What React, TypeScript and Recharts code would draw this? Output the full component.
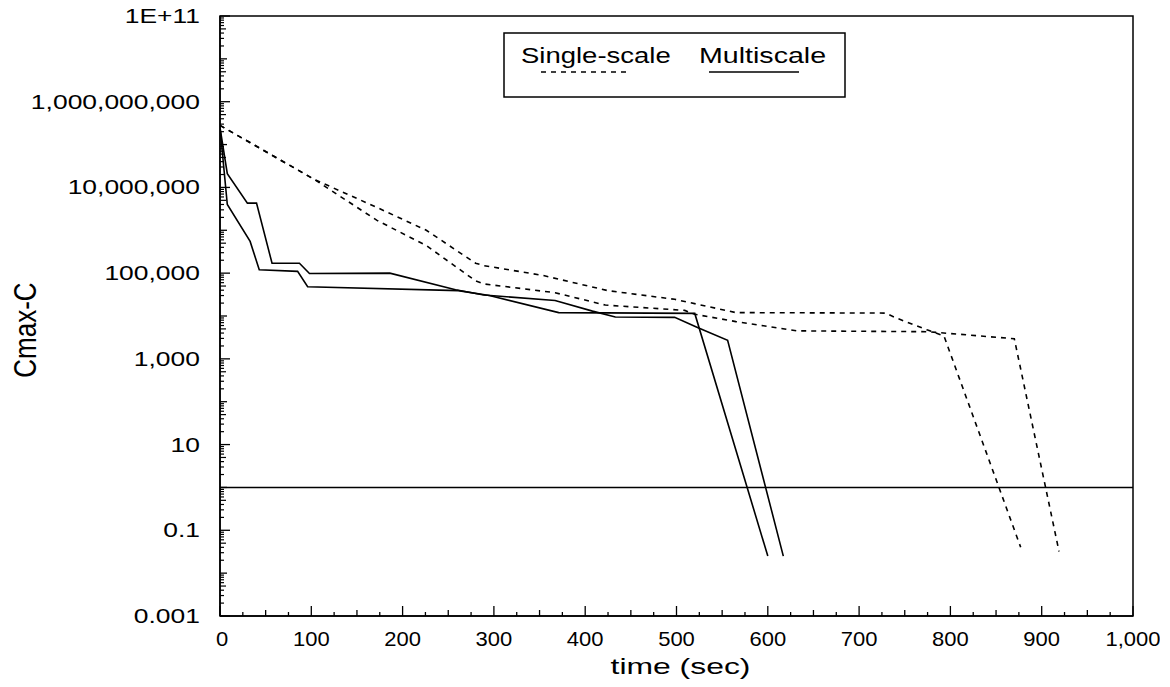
import React from 'react';
import { LineChart, Line, XAxis, YAxis, ReferenceArea, Legend, Label } from 'recharts';

// ---------- data (time in sec, Cmax-C) ----------
const singleScaleATime = [0, 103, 172, 226, 280, 289, 353, 425, 498, 565, 729, 740, 775, 793, 877];
const singleScaleAValue = [2.8e8, 1.55e7, 3.4e6, 1.0e6, 1.7e5, 1.5e5, 8.9e4, 3.9e4, 2.45e4, 1.2e4, 1.17e4, 9.1e3, 4.7e3, 3.4e3, 0.04];

const singleScaleBTime = [0, 103, 172, 226, 280, 289, 367, 422, 509, 520, 565, 632, 775, 870, 919];
const singleScaleBValue = [2.8e8, 1.55e7, 1.7e6, 4.4e5, 6.6e4, 5.6e4, 3.5e4, 1.8e4, 1.35e4, 1.1e4, 7.4e3, 4.5e3, 4.3e3, 2.95e3, 0.032];

const multiScaleATime = [0, 8, 30, 40, 57, 87, 98, 186, 258, 289, 367, 408, 433, 498, 523, 556, 617];
const multiScaleAValue = [2.5e8, 2.1e7, 4.3e6, 4.3e6, 1.7e5, 1.7e5, 9.8e4, 1.0e5, 4.1e4, 3.1e4, 2.3e4, 1.3e4, 9.5e3, 9.3e3, 5.4e3, 2.7e3, 0.025];

const multiScaleBTime = [0, 8, 33, 43, 85, 96, 261, 295, 371, 520, 600];
const multiScaleBValue = [2.5e8, 4.0e6, 5.5e5, 1.2e5, 1.1e5, 4.8e4, 3.9e4, 3.0e4, 1.2e4, 1.15e4, 0.025];

const thresholdTime = [0, 1000];
const thresholdValue = [1, 1];

const yTicks = [1e-3, 1e-2, 1e-1, 1, 10, 100, 1e3, 1e4, 1e5, 1e6, 1e7, 1e8, 1e9, 1e10, 1e11];
const yTickLabels = ['0.001', '', '0.1', '', '10', '', '1,000', '', '100,000', '', '10,000,000', '', '1,000,000,000', '', '1E+11'];

const xTicks = [0, 25, 50, 75, 100, 125, 150, 175, 200, 225, 250, 275, 300, 325, 350, 375, 400, 425, 450, 475, 500,
  525, 550, 575, 600, 625, 650, 675, 700, 725, 750, 775, 800, 825, 850, 875, 900, 925, 950, 975, 1000];
const xTickLabels: Record<number, string> = {
  0: '0', 100: '100', 200: '200', 300: '300', 400: '400', 500: '500',
  600: '600', 700: '700', 800: '800', 900: '900', 1000: '1,000',
};

const zip = (ts: number[], vs: number[]) => ts.map((t, i) => ({ t, v: vs[i] }));
const singleA = zip(singleScaleATime, singleScaleAValue);
const singleB = zip(singleScaleBTime, singleScaleBValue);
const multiA = zip(multiScaleATime, multiScaleAValue);
const multiB = zip(multiScaleBTime, multiScaleBValue);
const threshold = zip(thresholdTime, thresholdValue);

// ---------- layout ----------
const W = 1160;
const H = 687;
const PLOT_H = 600;
const FONT = '"Liberation Sans", Arial, Helvetica, sans-serif';

function SText(props: { x: number; y: number; anchor: string; size: number; sx: number; children: React.ReactNode }) {
  const { x, y, anchor, size, sx, children } = props;
  return (
    <text
      transform={`translate(${x},${y}) scale(${sx},1)`}
      textAnchor={anchor as any}
      fontSize={size}
      fontFamily={FONT}
      fill="#000"
    >
      {children}
    </text>
  );
}

function YTick(props: any) {
  const { x, y, payload } = props;
  const val = payload.value as number;
  const idx = yTicks.findIndex((t) => Math.abs(Math.log10(t) - Math.log10(val)) < 1e-6);
  const label = idx >= 0 ? yTickLabels[idx] : '';
  const decH = PLOT_H / 14;
  const minors: React.ReactNode[] = [];
  if (val < 1e11) {
    for (let k = 2; k <= 9; k++) {
      const yy = y - Math.log10(k) * decH;
      minors.push(<line key={k} x1={x} x2={x + (k === 5 ? 6 : 4)} y1={yy} y2={yy} stroke="#000" strokeWidth={1.2} />);
    }
  }
  return (
    <g>
      <line x1={x} x2={x + (label ? 10 : 7)} y1={y} y2={y} stroke="#000" strokeWidth={1.3} />
      {minors}
      {label ? <SText x={x - 20} y={y + 7} anchor="end" size={21} sx={1.26}>{label}</SText> : null}
    </g>
  );
}

function XTick(props: any) {
  const { x, y, payload } = props;
  const val = payload.value as number;
  const label = xTickLabels[val];
  const len = val % 100 === 0 ? 10 : val % 50 === 0 ? 6 : 4;
  return (
    <g>
      <line x1={x} x2={x} y1={y} y2={y - len} stroke="#000" strokeWidth={1.3} />
      {label !== undefined ? (
        <SText x={val === 0 ? x + 2 : x} y={y + 30} anchor="middle" size={20} sx={1.1}>{label}</SText>
      ) : null}
    </g>
  );
}

function XTitle(props: any) {
  const vb = props.viewBox || { x: 220, y: 616, width: 913, height: 71 };
  return (
    <SText x={vb.x + vb.width / 2 + 4} y={vb.y + 58} anchor="middle" size={22} sx={1.45}>
      time (sec)
    </SText>
  );
}

function YTitle(props: any) {
  const vb = props.viewBox || { x: 8, y: 16, width: 212, height: 600 };
  const cx = vb.x + 28;
  const cy = vb.y + vb.height / 2 + 14;
  return (
    <text
      transform={`translate(${cx},${cy}) rotate(-90) scale(1,1.2)`}
      textAnchor="middle"
      fontSize={26}
      fontFamily={FONT}
      fill="#000"
    >
      Cmax-C
    </text>
  );
}

function LegendBox() {
  return (
    <svg width={344} height={67} style={{ display: 'block' }}>
      <rect x={1} y={1} width={341} height={64} fill="#fff" stroke="#000" strokeWidth={1.5} />
      <SText x={18} y={31} anchor="start" size={22} sx={1.25}>Single-scale</SText>
      <line x1={38} x2={128} y1={40} y2={40} stroke="#000" strokeWidth={1.5} strokeDasharray="5 5" />
      <SText x={196} y={31} anchor="start" size={22} sx={1.3}>Multiscale</SText>
      <line x1={206} x2={296} y1={40} y2={40} stroke="#000" strokeWidth={1.5} />
    </svg>
  );
}

export default function App() {
  return (
    <div style={{ width: W, height: H, background: '#fff', marginTop: -8, marginLeft: -8 }}>
      <LineChart width={W} height={H} margin={{ top: 16, right: 27, bottom: 0, left: 8 }} style={{ overflow: 'visible' }}>
        <XAxis
          type="number"
          dataKey="t"
          domain={[0, 1000]}
          ticks={xTicks}
          interval={0}
          allowDataOverflow
          height={71}
          tickSize={0}
          tickMargin={0}
          tickLine={false}
          axisLine={{ stroke: '#000', strokeWidth: 1.5 }}
          tick={(p: any) => <XTick {...p} />}
        >
          <Label content={(p: any) => <XTitle {...p} />} />
        </XAxis>
        <YAxis
          type="number"
          scale="log"
          domain={[1e-3, 1e11]}
          ticks={yTicks}
          interval={0}
          allowDataOverflow
          width={212}
          tickSize={0}
          tickMargin={0}
          tickLine={false}
          axisLine={{ stroke: '#000', strokeWidth: 1.5 }}
          tick={(p: any) => <YTick {...p} />}
        >
          <Label content={(p: any) => <YTitle {...p} />} />
        </YAxis>
        <ReferenceArea x1={0} x2={1000} y1={1e-3} y2={1e11} fill="none" stroke="#000" strokeWidth={1.5} ifOverflow="visible" />
        <Line data={threshold} dataKey="v" type="linear" stroke="#000" strokeWidth={1.6} dot={false} isAnimationActive={false} />
        <Line data={singleA} dataKey="v" name="Single-scale" type="linear" stroke="#000" strokeWidth={1.6} strokeDasharray="5 5" dot={false} isAnimationActive={false} />
        <Line data={singleB} dataKey="v" type="linear" stroke="#000" strokeWidth={1.6} strokeDasharray="5 5" dot={false} isAnimationActive={false} />
        <Line data={multiA} dataKey="v" name="Multiscale" type="linear" stroke="#000" strokeWidth={1.6} dot={false} isAnimationActive={false} />
        <Line data={multiB} dataKey="v" type="linear" stroke="#000" strokeWidth={1.6} dot={false} isAnimationActive={false} />
        <Legend
          layout="horizontal"
          verticalAlign="middle"
          align="center"
          content={() => <LegendBox />}
          wrapperStyle={{ position: 'absolute', left: 503, top: 32, width: 344, height: 67 }}
        />
      </LineChart>
    </div>
  );
}
